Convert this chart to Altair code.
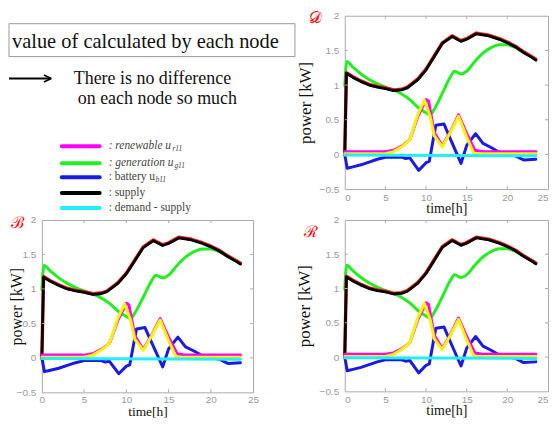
import altair as alt
import pandas as pd

# ---------------- data ----------------
time_supply = [0, 0.2, 1, 2, 3, 4, 5, 6, 7, 7.7, 9, 10, 11, 12, 13.2, 14.3, 15, 16.2, 17.7, 19, 20, 21, 22, 23, 23.5]
supply = [0.0, 1.17, 1.11, 1.05, 1.00, 0.97, 0.95, 0.92, 0.93, 0.96, 1.08, 1.22, 1.41, 1.60, 1.70, 1.63, 1.66, 1.74, 1.71, 1.66, 1.61, 1.55, 1.47, 1.40, 1.36]
demand = [0.0, 1.18, 1.12, 1.06, 1.01, 0.98, 0.96, 0.93, 0.94, 0.97, 1.09, 1.23, 1.42, 1.61, 1.71, 1.64, 1.67, 1.75, 1.72, 1.67, 1.62, 1.56, 1.48, 1.41, 1.37]

time_generation = [0, 0.25, 1, 2, 3, 4, 5, 6, 7, 8, 9, 10, 10.5, 11, 12, 13, 13.5, 14.3, 15, 16, 17, 18, 19, 20, 21, 22, 23, 23.5]
generation = [0.99, 1.34, 1.26, 1.16, 1.08, 1.02, 0.97, 0.93, 0.87, 0.79, 0.68, 0.60, 0.57, 0.65, 0.88, 1.12, 1.20, 1.16, 1.20, 1.34, 1.46, 1.54, 1.58, 1.58, 1.54, 1.47, 1.41, 1.38]

time_renewable = [0, 5, 6, 7, 8, 9, 10, 10.3, 11, 12, 13, 14, 15, 16, 17, 23.5]
renewable = [0.04, 0.04, 0.06, 0.12, 0.21, 0.55, 0.79, 0.77, 0.32, 0.12, 0.33, 0.57, 0.30, 0.06, 0.04, 0.04]

time_pv = [0, 5, 6, 7, 8, 9, 9.8, 10.5, 11, 12, 13, 14, 15, 15.9, 23.5]
pv = [0.01, 0.01, 0.04, 0.11, 0.21, 0.58, 0.78, 0.55, 0.27, 0.11, 0.32, 0.55, 0.25, 0.01, 0.01]

time_battery = [0, 0.3, 1, 2, 3, 4, 5, 6, 7, 7.5, 8, 9.1, 10, 10.4, 11.2, 12.2, 13, 14.3, 15, 16.1, 17, 18, 19, 20, 21, 22, 23.5]
battery = [0.0, -0.20, -0.18, -0.15, -0.11, -0.07, -0.04, -0.04, -0.04, -0.06, -0.05, -0.23, -0.12, -0.10, 0.42, 0.44, 0.22, -0.13, 0.13, 0.30, 0.16, 0.10, 0.03, 0.01, -0.02, -0.08, -0.07]

time_balance = [0, 23.5]
balance = [-0.01, -0.02]

x_tick_values = [0, 5, 10, 15, 20, 25]
y_tick_values = [-0.5, 0, 0.5, 1, 1.5, 2]

legend_labels = [": renewable u", ": generation u", ": battery u", ": supply", ": demand - supply"]
legend_subs = ["r11", "g11", "b11", "", ""]
legend_colors = ["#ff00ff", "#22ee22", "#1a1ae6", "#000000", "#22eeff"]
legend_italic = ["italic", "italic", "normal", "normal", "normal"]

headline = "value of calculated by each node"
remark_lines = ["There is no difference", "on each node so much"]

# ---------------- build table ----------------
parts = []
for name, t, v in [("green", time_generation, generation), ("blue", time_battery, battery),
                   ("red", time_supply, demand), ("black", time_supply, supply),
                   ("magenta", time_renewable, renewable), ("yellow", time_pv, pv),
                   ("cyan", time_balance, balance)]:
    parts.append(pd.DataFrame({"s": name, "t": t, "v": v}))
df = pd.concat(parts, ignore_index=True)

styles = [("green", "#22ee22", 3, "monotone"), ("blue", "#1a1ae6", 3, "linear"),
          ("red", "#ff1a1a", 3.4, "linear"), ("black", "#000000", 2.8, "linear"),
          ("magenta", "#ff00ff", 3, "linear"), ("yellow", "#f5f500", 3, "linear"),
          ("cyan", "#22eeff", 3, "linear")]

FRAME = "#aaaaaa"
LABEL = "#999999"
SERIF = "Liberation Serif"


def panel(w, h, letter, lx, ly, ytx, xty, yts, xts, flush, lpad):
    X = alt.X("t:Q", scale=alt.Scale(domain=[0, 25], nice=False, zero=False),
              axis=alt.Axis(values=x_tick_values, format="~g", labelFlush=flush, labelPadding=lpad,
                            ticks=False, domain=False, grid=False, labelColor=LABEL,
                            labelFont="Liberation Sans", labelFontSize=10,
                            title="time[h]", titleX=w / 2, titleY=xty, titleFontSize=xts,
                            titleBaseline="middle", titleFont=SERIF,
                            titleFontWeight=400, titleColor="#111111"))
    Y = alt.Y("v:Q", scale=alt.Scale(domain=[-0.5, 2], nice=False, zero=False),
              axis=alt.Axis(values=y_tick_values, format="~g", labelPadding=6,
                            ticks=False, domain=False, grid=False, labelColor=LABEL,
                            labelFont="Liberation Sans", labelFontSize=10,
                            title="power [kW]", titleX=ytx, titleY=h / 2, titleFontSize=yts,
                            titleAngle=270, titleBaseline="bottom", titleAlign="center",
                            titleFont=SERIF, titleFontWeight=400,
                            titleColor="#111111"))
    layers = []
    for name, color, sw, interp in styles:
        layers.append(alt.Chart(df).transform_filter(alt.datum.s == name)
                      .mark_line(color=color, strokeWidth=sw, interpolate=interp,
                                 strokeJoin="round", strokeCap="round")
                      .encode(x=X, y=Y))
    xt = alt.Chart(pd.DataFrame({"t": x_tick_values[1:-1]}))
    yt = alt.Chart(pd.DataFrame({"v": y_tick_values[1:-1]}))
    layers += [
        xt.mark_rule(color=FRAME).encode(x=X, y=alt.value(0), y2=alt.value(3)),
        xt.mark_rule(color=FRAME).encode(x=X, y=alt.value(h - 3), y2=alt.value(h)),
        yt.mark_rule(color=FRAME).encode(y=Y, x=alt.value(0), x2=alt.value(3)),
        yt.mark_rule(color=FRAME).encode(y=Y, x=alt.value(w - 3), x2=alt.value(w)),
    ]
    layers.append(alt.Chart(pd.DataFrame({"lab": [letter]}))
                  .mark_text(color="#ff0000", fontSize=16, baseline="top")
                  .encode(text="lab:N", x=alt.value(lx), y=alt.value(ly)))
    return alt.layer(*layers).properties(width=w, height=h,
                                         view=alt.ViewBackground(stroke=FRAME, strokeWidth=1))


# ---------------- top-left text cell ----------------
TW, TH = 212, 174
one = pd.DataFrame({"k": [0]})
box = alt.Chart(one).mark_rect(fill="white", stroke="#999999", strokeWidth=1).encode(
    x=alt.value(-33), x2=alt.value(254), y=alt.value(8), y2=alt.value(41))
head = alt.Chart(pd.DataFrame({"txt": [headline]})).mark_text(
    font=SERIF, fontSize=20.5, align="left", baseline="middle", color="#111111").encode(
    text="txt:N", x=alt.value(-30), y=alt.value(26))
arrow_shaft = alt.Chart(one).mark_rule(color="black", strokeWidth=2).encode(
    x=alt.value(-33), x2=alt.value(9), y=alt.value(63))
arrow_w1 = alt.Chart(one).mark_rule(color="black", strokeWidth=1.5).encode(
    x=alt.value(2), x2=alt.value(9.5), y=alt.value(59.5), y2=alt.value(63))
arrow_w2 = alt.Chart(one).mark_rule(color="black", strokeWidth=1.5).encode(
    x=alt.value(2), x2=alt.value(9.5), y=alt.value(66.5), y2=alt.value(63))
remark1 = alt.Chart(pd.DataFrame({"txt": [remark_lines[0]]})).mark_text(
    font=SERIF, fontSize=18, align="left", baseline="middle", color="#111111").encode(
    text="txt:N", x=alt.value(32), y=alt.value(64))
remark2 = alt.Chart(pd.DataFrame({"txt": [remark_lines[1]]})).mark_text(
    font=SERIF, fontSize=18, align="left", baseline="middle", color="#111111").encode(
    text="txt:N", x=alt.value(36), y=alt.value(84))

text_layers = [box, head, arrow_shaft, arrow_w1, arrow_w2, remark1, remark2]
leg_y = [131, 148, 162, 178, 193]
sub_x = [131, 133, 114, 0, 0]
for i in range(len(legend_labels)):
    text_layers.append(alt.Chart(one).mark_rule(
        color=legend_colors[i], strokeWidth=4, strokeCap="round").encode(
        x=alt.value(20), x2=alt.value(58), y=alt.value(leg_y[i])))
    text_layers.append(alt.Chart(pd.DataFrame({"txt": [legend_labels[i]]})).mark_text(
        font=SERIF, fontSize=11.5, fontStyle=legend_italic[i], align="left",
        baseline="middle", color="#444444").encode(
        text="txt:N", x=alt.value(67), y=alt.value(leg_y[i])))
    if legend_subs[i]:
        text_layers.append(alt.Chart(pd.DataFrame({"txt": [legend_subs[i]]})).mark_text(
            font=SERIF, fontSize=7.5, fontStyle="italic", align="left",
            baseline="middle", color="#444444").encode(
            text="txt:N", x=alt.value(sub_x[i]), y=alt.value(leg_y[i] + 3)))

text_cell = alt.layer(*text_layers).properties(
    width=TW, height=TH, view=alt.ViewBackground(strokeOpacity=0))

D = panel(204, 174, "𝒟", -29, -6, -30, 19, 17, 14, True, 3)
B = panel(212, 173, "ℬ", -24, -5, -17, 19.5, 16, 13.5, False, 2)
R = panel(204, 172, "ℛ", -34, 4, -31, 19, 17, 14, True, 3)

chart = alt.concat(text_cell, D, B, R, columns=2, spacing={"row": 31, "column": 92},
                   bounds="flush").properties(padding=0).configure_view(stroke=FRAME)

chart.save("out.html", embed_options={"renderer": "svg", "actions": False})
